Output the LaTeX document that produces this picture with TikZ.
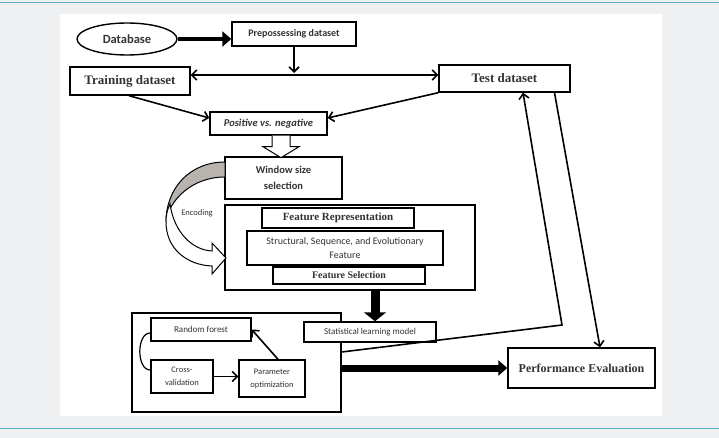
\documentclass[tikz,border=0pt]{standalone}
\usepackage{fontspec}
\setmainfont{Carlito}
\newfontfamily\tnr{Liberation Serif}
\usetikzlibrary{arrows.meta,shapes.geometric}
\definecolor{pagegray}{HTML}{EEF0F2}
\definecolor{rulecol}{HTML}{5BAFC9}
\definecolor{txt}{HTML}{333333}
\definecolor{bandgray}{HTML}{B9B3AD}
\newcommand{\fs}[2]{\fontsize{#1}{#2}\selectfont}

\begin{document}
\begin{tikzpicture}[x=1pt,y=-1pt]
    \tikzstyle{box}=[draw, rectangle, fill=white, line width=1.4pt, inner sep=0pt, text=txt, align=center]
    \tikzstyle{conn}=[line width=1.6pt, -{Straight Barb[length=5pt,width=10pt]}]
    \tikzstyle{fat}=[-{Triangle[length=9pt,width=15pt]}]
    % page and panel
    \fill[pagegray] (0,0) rectangle (719,438);
    \useasboundingbox (0,0) rectangle (719,438);
    \fill[white] (60,14) rectangle (662,416);
    \draw[rulecol, line width=0.8pt] (0,2) -- (719,2);
    \draw[rulecol, line width=0.8pt] (0,428) -- (719,428);

    % top part
    \node[draw, ellipse, line width=1.4pt, minimum width=100pt, minimum height=32pt, text=txt, font=\fs{12.5}{14}\bfseries] (db) at (127,39) {Database};
    \node[box, minimum width=124pt, minimum height=24pt, font=\fs{10}{12}\bfseries] (prep) at (294,34) {Prepossessing dataset};
    \node[box, minimum width=120pt, minimum height=28pt, font=\fs{13}{15}\tnr\bfseries] (train) at (130,81) {Training dataset};
    \node[box, minimum width=131pt, minimum height=27pt, font=\fs{13}{15}\tnr\bfseries] (test) at (504.5,78.5) {Test dataset};
    \node[box, minimum width=117pt, minimum height=23pt, font=\fs{10.5}{12}\bfseries\itshape] (pos) at (268.5,123.5) {Positive vs. negative};
    \node[box, minimum width=117pt, minimum height=42pt, font=\fs{10.5}{16}\bfseries] (win) at (283.5,178) {Window size\\selection};

    % feature block
    \node[box, minimum width=250pt, minimum height=85pt] (feat) at (350,247.5) {};
    \node[box, minimum width=152pt, minimum height=20pt, font=\fs{11}{13}\tnr\bfseries] (frep) at (338,218) {Feature Representation};
    \node[box, minimum width=196pt, minimum height=34pt, font=\fs{10}{14}] (struct) at (345,248) {Structural, Sequence, and Evolutionary\\Feature};
    \node[box, minimum width=152pt, minimum height=17pt, font=\fs{10}{12}\tnr\bfseries] (fsel) at (349,275.5) {Feature Selection};

    % model block
    \node[box, minimum width=209pt, minimum height=99pt] (lbox) at (236.5,362.5) {};
    \node[box, minimum width=132pt, minimum height=20pt, font=\fs{9}{10}] (stat) at (370,332) {Statistical learning model};
    \node[box, minimum width=100pt, minimum height=23pt, font=\fs{9}{11}] (rf) at (201,329.5) {Random forest};
    \node[box, minimum width=62pt, minimum height=33pt, font=\fs{8.5}{13}] (cv) at (182,376.5) {Cross-\\validation};
    \node[box, minimum width=66pt, minimum height=37pt, font=\fs{8.5}{13}] (po) at (272,378.5) {Parameter\\optimization};
    \node[box, minimum width=147pt, minimum height=40pt, font=\fs{12}{14}\tnr\bfseries] (perf) at (581.5,368) {Performance Evaluation};

    % connectors
    \coordinate (split) at (294,73);
    \coordinate (bend) at (562,325);
    \draw[fat, line width=4pt] (db.east) -- (db.east -| prep.west);
    \draw[conn] (prep.south) -- (split);
    \draw[conn, {Straight Barb[length=5pt,width=10pt]}-{Straight Barb[length=5pt,width=10pt]}] ([yshift=6pt]train.east) -- ([yshift=3.5pt]test.west);
    \draw[conn] ([xshift=-1pt]train.south) -- ([yshift=5.5pt]pos.west);
    \draw[conn] (test.south west) -- ([yshift=5.5pt]pos.east);
    \draw[fill=white, line width=1pt] ([xshift=3.5pt]pos.south) -- ++(0,11) -- ++(-9,0) -- ++(18,11) -- ++(18,-11) -- ++(-9,0) -- ++(0,-11);

    % encoding band
    \filldraw[fill=bandgray, line width=1pt] (225,162) .. controls (190,162) and (166,188) .. (166,222) .. controls (169,200) and (192,177) .. (225,177) -- cycle;
    \filldraw[fill=white, line width=1pt] (166,222) .. controls (166,248) and (186,265) .. (212,266) -- (212,274) -- (226,258) -- (212,243) -- (212,251) .. controls (192,250) and (174,232) .. (170,204) .. controls (167,210) and (166,216) .. cycle;
    \node[text=txt, font=\fs{8.5}{10}] (enc) at (197,213) {Encoding};

    \draw[-{Triangle[length=9pt,width=22pt]}, line width=9pt] ([xshift=25pt]feat.south) -- ([xshift=5pt]stat.north);
    \draw[line width=1.2pt] ([yshift=-3.5pt]rf.west) .. controls +(-14,0) and +(-14,0) .. ([yshift=6.5pt]cv.west);
    \draw[conn] (cv.east) -- (cv.east -| po.west);
    \draw[conn] ([xshift=6pt]po.north) -- (rf.east);
    \draw[fat, line width=7pt] (lbox.east |- perf.west) -- (perf.west);
    \draw[conn] ([yshift=10.5pt]lbox.east) -- (bend) -- ([xshift=18.5pt]test.south);
    \draw[conn] ([xshift=50pt]test.south) -- ([xshift=18.5pt]perf.north);
\end{tikzpicture}
\end{document}
